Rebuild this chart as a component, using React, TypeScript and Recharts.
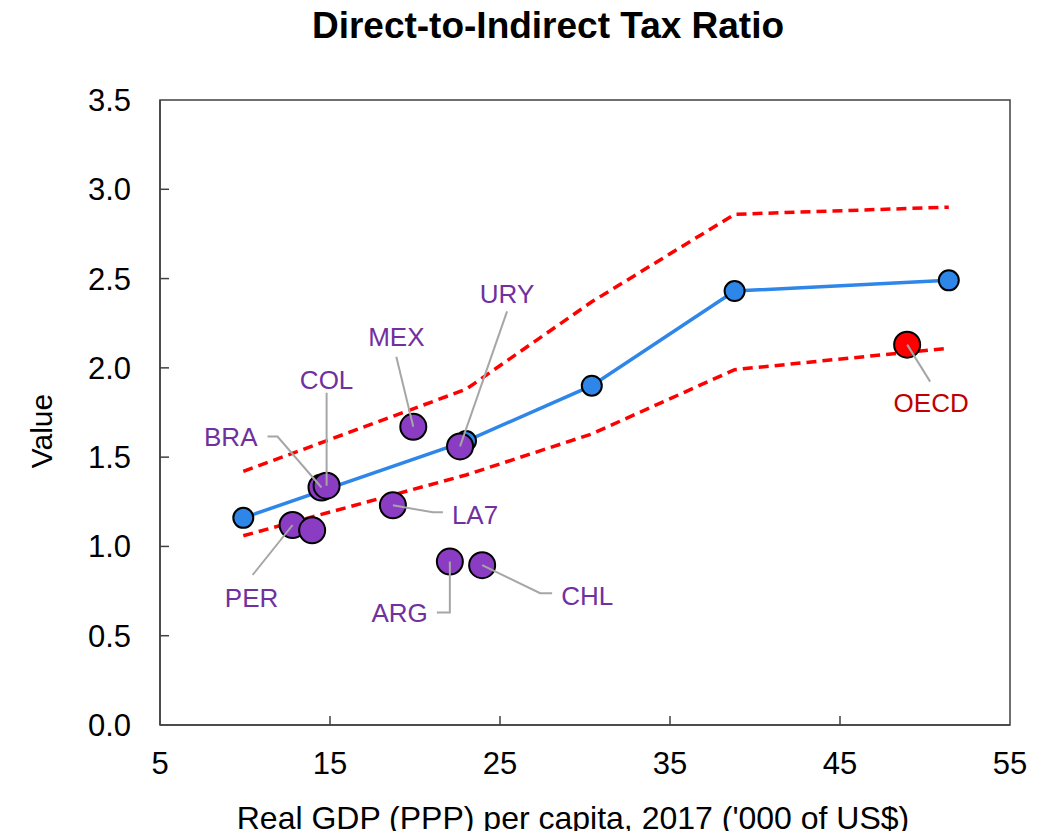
import React from 'react';
import { ComposedChart, Line, Scatter, XAxis, YAxis, ReferenceArea } from 'recharts';

// ---- data ----
const pathX = [9.9, 23.0, 30.4, 38.8, 51.4];
const meanVals = [1.16, 1.59, 1.9, 2.43, 2.49];
const upperVals = [1.42, 1.88, 2.37, 2.86, 2.9];
const lowerVals = [1.06, 1.4, 1.63, 1.99, 2.11];

const laNames = ['BRA', 'COL', 'MEX', 'URY', 'LA7', 'PER', '', 'ARG', 'CHL'];
const laGdp = [14.5, 14.8, 19.9, 22.65, 18.7, 12.8, 13.95, 22.05, 23.95];
const laRatio = [1.33, 1.34, 1.67, 1.56, 1.23, 1.12, 1.09, 0.915, 0.895];

const oecdNames = ['OECD'];
const oecdGdp = [48.95];
const oecdRatio = [2.13];

const xTicks = [5, 15, 25, 35, 45, 55];
const yTicks = [0, 0.5, 1, 1.5, 2, 2.5, 3, 3.5];

const title = 'Direct-to-Indirect Tax Ratio';
const xTitle = "Real GDP (PPP) per capita, 2017 ('000 of US$)";
const yTitle = 'Value';

// ---- layout / style config (pixel offsets of annotation labels) ----
type Lay = { leader: number[][]; tx: number; ty: number; anchor: 'start' | 'middle' | 'end' };
const labelLayout: Record<string, Lay> = {
  BRA: { leader: [[0, 0], [-44, -51], [-54, -51]], tx: -64, ty: -51, anchor: 'end' },
  COL: { leader: [[0, 0], [0, -93]], tx: 0, ty: -106, anchor: 'middle' },
  MEX: { leader: [[0, 0], [-17, -70]], tx: -17, ty: -90, anchor: 'middle' },
  URY: { leader: [[0, 0], [47, -135]], tx: 47, ty: -153, anchor: 'middle' },
  LA7: { leader: [[0, 0], [40, 7], [50, 7]], tx: 59, ty: 9, anchor: 'start' },
  PER: { leader: [[0, 0], [-40, 50]], tx: -41, ty: 72, anchor: 'middle' },
  ARG: { leader: [[0, 0], [0, 51], [-13, 51]], tx: -22, ty: 51, anchor: 'end' },
  CHL: { leader: [[0, 0], [58, 28], [70, 28]], tx: 79, ty: 30, anchor: 'start' },
  OECD: { leader: [[0, 0], [23, 37]], tx: 24, ty: 58, anchor: 'middle' },
};

const FONT = '"Liberation Sans", Arial, sans-serif';
const W = 1040;
const H = 823;
const AXIS = '#404040';

const pathData = pathX.map((x, i) => ({ x, mean: meanVals[i], upper: upperVals[i], lower: lowerVals[i] }));
const laData = laNames.map((name, i) => ({ name, x: laGdp[i], y: laRatio[i] }));
const oecdData = oecdNames.map((name, i) => ({ name, x: oecdGdp[i], y: oecdRatio[i] }));

const XTick = (props: any) => {
  const { x, y, payload } = props;
  const v = payload.value;
  const inner = v !== xTicks[0] && v !== xTicks[xTicks.length - 1];
  return (
    <g>
      {inner && <line x1={x} x2={x} y1={y} y2={y - 9} stroke={AXIS} strokeWidth={1.5} />}
      <text x={x} y={y + 49} textAnchor="middle" fontFamily={FONT} fontSize={31} fill="#000">
        {v}
      </text>
    </g>
  );
};

const YTick = (props: any) => {
  const { x, y, payload } = props;
  const v = payload.value;
  const inner = v !== yTicks[0] && v !== yTicks[yTicks.length - 1];
  return (
    <g>
      {inner && <line x1={x} x2={x + 9} y1={y} y2={y} stroke={AXIS} strokeWidth={1.5} />}
      <text x={x - 29} y={y + 11} textAnchor="end" fontFamily={FONT} fontSize={31} fill="#000">
        {Number(v).toFixed(1)}
      </text>
    </g>
  );
};

const makeDot = (fill: string) => (props: any) => {
  const { cx, cy } = props;
  if (cx == null || cy == null) return <g />;
  return <circle cx={cx} cy={cy} r={13} fill={fill} stroke="#000" strokeWidth={2} />;
};

const makeLabel = (color: string) => (props: any) => {
  const { cx, cy, payload } = props;
  const lay = labelLayout[payload?.name];
  if (!lay || cx == null) return <g />;
  const pts = lay.leader.map((p) => `${cx + p[0]},${cy + p[1]}`).join(' ');
  return (
    <g>
      <polyline points={pts} fill="none" stroke="#A6A6A6" strokeWidth={2} />
      <text
        x={cx + lay.tx}
        y={cy + lay.ty + 9.5}
        textAnchor={lay.anchor}
        fontFamily={FONT}
        fontSize={26}
        fill={color}
      >
        {payload.name}
      </text>
    </g>
  );
};

export default function App() {
  return (
    <div style={{ position: 'relative', width: W, height: H, background: '#fff' }}>
      <ComposedChart
        width={W}
        height={H}
        margin={{ top: 92, right: 38, bottom: 46, left: 72 }}
        style={{ position: 'absolute', left: 0, top: 0 }}
      >
        <XAxis
          type="number"
          dataKey="x"
          domain={[5, 55]}
          ticks={xTicks}
          allowDataOverflow
          height={60}
          tickSize={0}
          tickMargin={0}
          tick={<XTick />}
          axisLine={{ stroke: AXIS, strokeWidth: 1.5 }}
          tickLine={false}
          interval={0}
        />
        <YAxis
          type="number"
          domain={[0, 3.5]}
          ticks={yTicks}
          allowDataOverflow
          width={80}
          tickSize={0}
          tickMargin={0}
          tick={<YTick />}
          axisLine={{ stroke: AXIS, strokeWidth: 1.5 }}
          tickLine={false}
          interval={0}
        />
        <ReferenceArea
          x1={5}
          x2={55}
          y1={0}
          y2={3.5}
          fill="none"
          fillOpacity={0}
          stroke={AXIS}
          strokeWidth={1.5}
          ifOverflow="visible"
        />
        <Line
          data={pathData}
          dataKey="lower"
          type="linear"
          stroke="#FF0000"
          strokeWidth={3.5}
          strokeDasharray="10 6"
          dot={false}
          activeDot={false}
          isAnimationActive={false}
        />
        <Line
          data={pathData}
          dataKey="upper"
          type="linear"
          stroke="#FF0000"
          strokeWidth={3.5}
          strokeDasharray="10 6"
          dot={false}
          activeDot={false}
          isAnimationActive={false}
        />
        <Line
          data={pathData}
          dataKey="mean"
          type="linear"
          stroke="#2E86E8"
          strokeWidth={3.5}
          dot={{ r: 10, fill: '#2E86E8', stroke: '#000', strokeWidth: 2 }}
          activeDot={false}
          isAnimationActive={false}
        />
        <Scatter data={laData} dataKey="y" shape={makeDot('#8A3CC2')} isAnimationActive={false} />
        <Scatter data={oecdData} dataKey="y" shape={makeDot('#FF0000')} isAnimationActive={false} />
        <Scatter data={laData} dataKey="y" shape={makeLabel('#7030A0')} isAnimationActive={false} />
        <Scatter data={oecdData} dataKey="y" shape={makeLabel('#C00000')} isAnimationActive={false} />
      </ComposedChart>
      <svg
        width={W}
        height={H}
        overflow="visible"
        style={{ position: 'absolute', left: 0, top: 0, pointerEvents: 'none', overflow: 'visible' }}
      >
        <text x={540} y={30} textAnchor="middle" fontFamily={FONT} fontSize={37} fontWeight="bold" fill="#000">
          {title}
        </text>
        <text x={565} y={821} textAnchor="middle" fontFamily={FONT} fontSize={32} fill="#000">
          {xTitle}
        </text>
        <text
          x={44}
          y={423}
          textAnchor="middle"
          fontFamily={FONT}
          fontSize={30}
          fill="#000"
          transform="rotate(-90 44 423)"
        >
          {yTitle}
        </text>
      </svg>
    </div>
  );
}
